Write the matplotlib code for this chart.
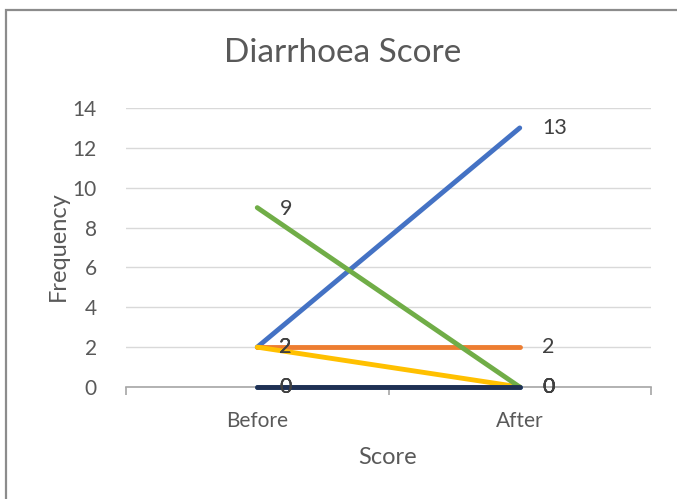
import matplotlib.pyplot as plt
from matplotlib.patches import Rectangle

plt.rcParams['font.family'] = ['Lato', 'DejaVu Sans']

categories = ["Before", "After"]
# series values (Excel default palette order)
blue = [2, 13]
orange = [2, 2]
gray = [0, 0]
yellow = [2, 0]
light_blue = [0, 0]
green = [9, 0]
navy = [0, 0]

series = [
    (blue, "#4472C4"),
    (orange, "#ED7D31"),
    (gray, "#A5A5A5"),
    (yellow, "#FFC000"),
    (light_blue, "#5B9BD5"),
    (green, "#70AD47"),
    (navy, "#1F3053"),
]

W, H = 677, 499
fig = plt.figure(figsize=(W/100, H/100), dpi=100)
ax = fig.add_axes([126/W, 1 - 387/H, (651 - 126)/W, (387 - 108)/H])

# chart border (Excel chart area)
fig.patches.append(Rectangle((6/W, -0.1), 1.2, 1 - 10/H + 0.1, transform=fig.transFigure,
                             fill=False, edgecolor="#8C8C8C", linewidth=1.6))

x = list(range(len(categories)))
for vals, col in series:
    ax.plot(x, vals, color=col, linewidth=3.5, solid_capstyle="round", zorder=3, clip_on=False)

# data labels
for vals, col in series:
    for xi, v in zip(x, vals):
        ax.annotate(str(v), (xi, v), xytext=(16, -1 if v == 9 else 0), textcoords="offset points",
                    ha="left", va="center", fontsize=15.5, color="#404040", zorder=4)

ax.set_xlim(-0.5, 1.5)
ax.set_ylim(0, 14)
ax.set_yticks(range(0, 15, 2))
ax.set_xticks(x)
ax.set_xticklabels(categories)
ax.set_xticks([-0.5, 0.5, 1.5], minor=True)
ax.tick_params(axis="x", which="major", length=0, pad=17, labelsize=15, labelcolor="#595959")
ax.tick_params(axis="x", which="minor", length=6, color="#A6A6A6", width=1.2)
ax.tick_params(axis="y", length=0, pad=21, labelsize=15, labelcolor="#595959")

ax.grid(axis="y", color="#D9D9D9", linewidth=1)
ax.set_axisbelow(True)
for s in ["top", "right", "left"]:
    ax.spines[s].set_visible(False)
ax.spines["bottom"].set_color("#A6A6A6")
ax.spines["bottom"].set_linewidth(1.2)

fig.text(343/W, 1 - 53/H, "Diarrhoea Score", fontsize=24, color="#595959", ha="center", va="center")
fig.text(388/W, 1 - 458/H, "Score", fontsize=17, color="#595959", ha="center", va="center")
fig.text(58/W, 1 - 246/H, "Frequency", fontsize=17, color="#595959", ha="center", va="center",
         rotation=90)

fig.savefig("out.png", dpi=100)
